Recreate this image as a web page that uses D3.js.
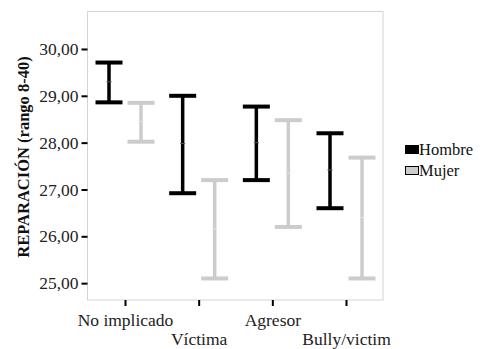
<!DOCTYPE html>
<html><head><meta charset="utf-8">
<script src="https://cdn.jsdelivr.net/npm/d3@7"></script>
<style>body{margin:0;background:#fff;} svg{display:block;font-family:"Liberation Serif","DejaVu Serif",serif;} svg text{font-family:"Liberation Serif","DejaVu Serif",serif;}</style>
</head><body><svg id="c" width="483" height="349"></svg>
<script>
const categories = ["No implicado","Víctima","Agresor","Bully/victim"];
const groups = ["Hombre","Mujer"];
const colors = ["#000000","#cccccc"];
const hombreMean = [29.30, 27.98, 28.00, 27.42];
const hombreLow  = [28.86, 26.92, 27.20, 26.60];
const hombreHigh = [29.71, 29.00, 28.77, 28.20];
const mujerMean  = [28.45, 26.16, 27.35, 26.40];
const mujerLow   = [28.02, 25.10, 26.20, 25.10];
const mujerHigh  = [28.85, 27.20, 28.48, 27.68];
const yTicks = [25,26,27,28,29,30];
const yTitleBold = "REPARACIÓN";
const yTitleRest = " (rango 8-40)";

const svg = d3.select("#c");
const L=87.5, R=383, T=11.5, B=300;
const y = d3.scaleLinear().domain([24.64, 30.8]).range([B, T]);
const x = d3.scalePoint().domain(categories).range([125, 346]);
const off = d3.scalePoint().domain(groups).range([-16, 16]);

svg.append("rect").attr("x",L).attr("y",T).attr("width",R-L).attr("height",B-T)
  .attr("fill","none").attr("stroke","#d4d4d4").attr("stroke-width",1);

const yAxis = svg.append("g").attr("transform",`translate(${L},0)`)
  .call(d3.axisLeft(y).tickValues(yTicks).tickSize(6).tickPadding(3)
    .tickFormat(d=>d3.format(".2f")(d).replace(".",",")));
yAxis.attr("font-family",null);
yAxis.select(".domain").remove();
yAxis.selectAll(".tick line").attr("stroke","#000").attr("stroke-width",2);
yAxis.selectAll(".tick text").attr("font-size",17.5).attr("fill","#222");

const xAxis = svg.append("g").attr("transform",`translate(0,${B})`)
  .call(d3.axisBottom(x).tickSize(6).tickPadding(0));
xAxis.attr("font-family",null);
xAxis.select(".domain").remove();
xAxis.selectAll(".tick line").attr("stroke","#000").attr("stroke-width",2);
xAxis.selectAll(".tick text").attr("font-size",17.5).attr("fill","#222")
  .attr("dy",(d,i)=> i%2 ? "2.25em" : "1.12em");

const data = [];
categories.forEach((c,i)=>{
  data.push({c,g:"Hombre",m:hombreMean[i],lo:hombreLow[i],hi:hombreHigh[i]});
  data.push({c,g:"Mujer",m:mujerMean[i],lo:mujerLow[i],hi:mujerHigh[i]});
});
const cw = 13.5;
const eb = svg.append("g").selectAll("g").data(data).join("g")
  .attr("transform",d=>`translate(${x(d.c)+off(d.g)},0)`)
  .attr("stroke",d=>colors[groups.indexOf(d.g)]);
eb.append("line").attr("y1",d=>y(d.lo)).attr("y2",d=>y(d.hi)).attr("stroke-width",3.5);
eb.append("line").attr("x1",-cw).attr("x2",cw).attr("y1",d=>y(d.hi)).attr("y2",d=>y(d.hi)).attr("stroke-width",4);
eb.append("line").attr("x1",-cw).attr("x2",cw).attr("y1",d=>y(d.lo)).attr("y2",d=>y(d.lo)).attr("stroke-width",4);
eb.append("line").attr("x1",-2.5).attr("x2",2.5).attr("y1",d=>y(d.m)).attr("y2",d=>y(d.m))
  .attr("stroke-width",1).attr("stroke",d=>d.g==="Hombre"?"#555":"#e4e4e4");

const yt = svg.append("text").attr("transform",`translate(29,157) rotate(-90)`)
  .attr("text-anchor","middle").attr("font-size",16.5).attr("font-weight","bold").attr("fill","#111");
yt.append("tspan").text(yTitleBold);
yt.append("tspan").text(yTitleRest);

const lg = svg.append("g").attr("transform","translate(405,145)");
groups.forEach((g,i)=>{
  const row = lg.append("g").attr("transform",`translate(0,${i*21})`);
  row.append("rect").attr("x",0.5).attr("y",0.5).attr("width",13).attr("height",8)
    .attr("fill",colors[i]).attr("stroke","#000").attr("stroke-width",1);
  row.append("text").attr("x",14).attr("y",10).attr("font-size",16.5).attr("fill","#111").text(g);
});
</script></body></html>
